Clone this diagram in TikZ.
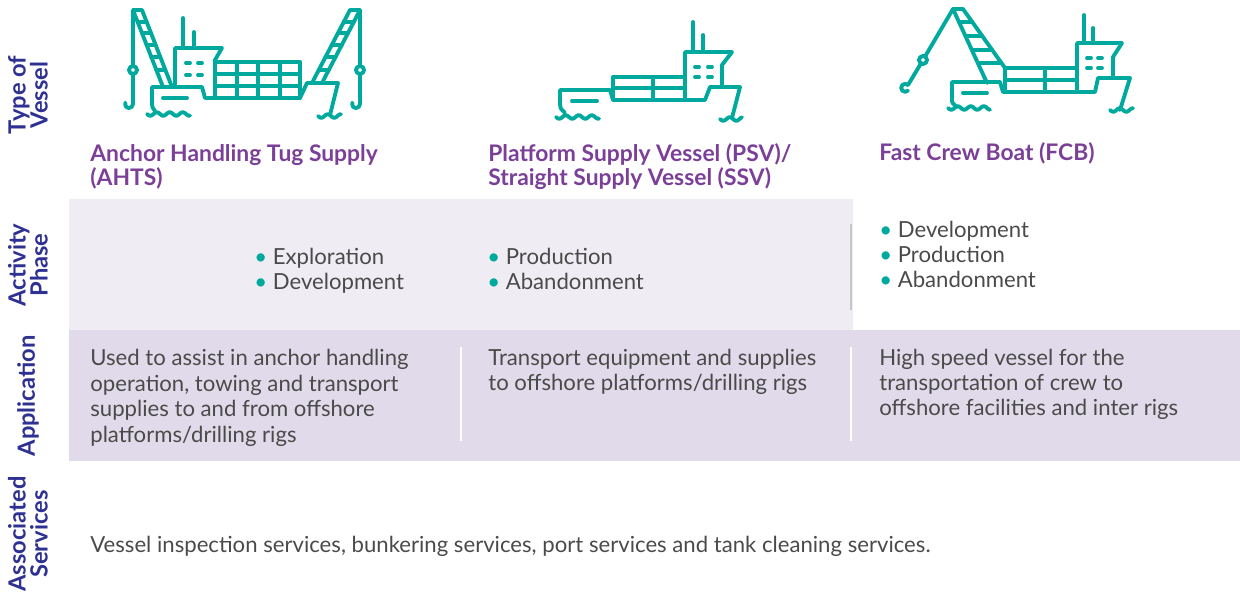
\documentclass[tikz,border=0pt]{standalone}
\usepackage{fontspec}
\setmainfont{Lato}
\definecolor{vteal}{HTML}{00A99D}
\definecolor{vpurple}{HTML}{7B3F98}
\definecolor{vblue}{HTML}{2E3192}
\definecolor{vgray}{HTML}{4A4A4A}
\definecolor{phasebg}{HTML}{EFECF3}
\definecolor{appbg}{HTML}{E1DAEA}
\newcommand{\blt}{\textcolor{vteal}{\textbullet}\ }

\begin{document}
\begin{tikzpicture}[x=0.02cm, y=-0.02cm,
    rowlabel/.style={rotate=90, 
      align=center, 
      inner sep=0, 
      text=vblue, 
      font=\fontsize{13.5}{12.5}\selectfont\bfseries},
    vesseltitle/.style={anchor=base west, 
      align=left, 
      inner sep=0, 
      text=vpurple, 
      font=\fontsize{13}{14.2}\selectfont\bfseries},
    bodytext/.style={anchor=base west, 
      align=left, 
      inner sep=0, 
      text=vgray, 
      font=\fontsize{12.6}{14.5}\selectfont},
    icon/.style={draw=vteal, line width=2.2pt, line cap=round, line join=round},
    divider/.style={draw=white, line width=1.2pt}]
  \useasboundingbox (0,0) rectangle (1240,597);

  % BANDS

  \fill[phasebg] (69,199) rectangle (853,330);
  \fill[appbg] (69,330) rectangle (1240,461);
  \draw[divider] (461,347) -- (461,441);
  \draw[divider] (851,347) -- (851,441);
  \draw[gray!45, line width=1.2pt] (851,224) -- (851,310);

  % ROW LABELS

  \node[rowlabel] (typelbl) at (28,95) {Type of\\Vessel};
  \node[rowlabel] (phaselbl) at (28,265) {Activity\\Phase};
  \node[rowlabel] (applbl) at (28,396) {Application};
  \node[rowlabel] (servlbl) at (28,534) {Associated\\Services};

  % AHTS ICON

  \draw[icon] (133,104) -- (133,74) (133,66) -- (133,10) -- (142,10) -- (172,87);
  \draw[icon] (133,10) -- (163,87);
  \draw[icon] (133,70) circle[radius=4];
  \draw[icon] (133,104) arc[start angle=0, end angle=200, radius=4];
  \foreach \r in {22,33,45,57,70}
    \draw[icon] ({133+0.388*(\r-10)},\r) -- ({142+0.388*(\r-10)},\r);
  \draw[icon] (175,87) -- (175,48) -- (222,48) -- (215,60) -- (215,98);
  \draw[icon] (183,48) -- (183,18) (194,48) -- (194,32);
  \foreach \w in {63,75}
    \draw[icon] (186,\w) -- (190,\w) (198,\w) -- (202,\w);
  \draw[icon] (215,62) rectangle (300,98);
  \draw[icon] (215,74) -- (300,74) (215,86) -- (300,86);
  \foreach \c in {237,258,280}
    \draw[icon] (\c,62) -- (\c,98);
  \draw[icon] (155,111) .. controls (152,107) .. (152,100) -- (152,87) -- (202,87) 
    -- (205,98) -- (300,98) -- (307,83) -- (338,83) -- (330,115);
  \draw[icon] (163,98) -- (187,98);
  \draw[icon] (312,83) -- (350,10) -- (360,10) -- (360,66) (360,74) -- (360,104);
  \draw[icon] (322,83) -- (360,10);
  \draw[icon] (360,70) circle[radius=4];
  \draw[icon] (360,104) arc[start angle=0, end angle=200, radius=4];
  \foreach \r in {22,33,45,57,70}
    \draw[icon] ({350-0.52*(\r-10)},\r) -- ({360-0.52*(\r-10)},\r);
  \draw[icon] plot[domain=147:190, samples=30, smooth] (\x,{114+1.8*sin(360*(\x-147)/13)});
  \draw[icon] plot[domain=318:341, samples=20, smooth] (\x,{116+1.8*sin(360*(\x-318)/13)});

  % PSV ICON

  \draw[icon] (693,52) -- (693,22) (703,52) -- (703,35);
  \draw[icon] (685,100) -- (685,52) -- (732,52) -- (722,65) -- (722,87);
  \foreach \w in {67,77}
    \draw[icon] (695,\w) -- (699,\w) (708,\w) -- (712,\w);
  \draw[icon] (613,77) rectangle (685,100);
  \draw[icon] (613,88) -- (685,88) (653,77) -- (653,100);
  \draw[icon] (565,113) .. controls (560,108) .. (560,104) -- (560,90) -- (610,90) 
    -- (613,100) -- (705,100) -- (710,87) -- (740,87) -- (732,118);
  \draw[icon] (572,101) -- (597,101);
  \draw[icon] plot[domain=556:599, samples=30, smooth] (\x,{117+1.8*sin(360*(\x-556)/13)});
  \draw[icon] plot[domain=720:742, samples=20, smooth] (\x,{119+1.8*sin(360*(\x-720)/13)});

  % FCB ICON

  \draw[icon] (953,9) -- (925,56.6) (921,63.4) -- (908,85);
  \draw[icon] (923,60) circle[radius=4];
  \draw[icon] (908,85) arc[start angle=-45, end angle=-315, radius=4];
  \draw[icon] (953,9) -- (963,9) -- (1005,68) (953,9) -- (987,83);
  \foreach \r in {22,36,50,63}
    \draw[icon] ({953+0.46*(\r-9)},\r) -- ({963+0.71*(\r-9)},\r);
  \draw[icon] (1005,68) rectangle (1077,92);
  \draw[icon] (1005,80) -- (1077,80) (1045,68) -- (1045,92);
  \draw[icon] (1077,92) -- (1077,43) -- (1122,43) -- (1113,57) -- (1113,78);
  \draw[icon] (1084,43) -- (1084,15) (1093,43) -- (1093,28);
  \foreach \w in {58,68}
    \draw[icon] (1087,\w) -- (1091,\w) (1098,\w) -- (1102,\w);
  \draw[icon] (957,107) .. controls (952,103) .. (952,99) -- (952,82) -- (1000,82) 
    -- (1003,92) -- (1095,92) -- (1098,78) -- (1130,78) -- (1120,110);
  \draw[icon] (963,93) -- (987,93);
  \draw[icon] plot[domain=948:990, samples=30, smooth] (\x,{108+1.8*sin(360*(\x-948)/13)});
  \draw[icon] plot[domain=1110:1133, samples=20, smooth] (\x,{110+1.8*sin(360*(\x-1110)/13)});

  % TITLES (base anchor = last line)

  \node[vesseltitle] (ahtstitle) at (90,186) {Anchor Handling Tug Supply\\(AHTS)};
  \node[vesseltitle] (psvtitle) at (488,186) {Platform Supply Vessel (PSV)/\\Straight Supply Vessel (SSV)};
  \node[vesseltitle] (fcbtitle) at (879,161) {Fast Crew Boat (FCB)};

  % ACTIVITY PHASE

  \node[bodytext] (ahtsphase) at (254,290) {\blt Exploration\\\blt Development};
  \node[bodytext] (psvphase) at (487,290) {\blt Production\\\blt Abandonment};
  \node[bodytext] (fcbphase) at (879,288) {\blt Development\\\blt Production\\\blt Abandonment};

  % APPLICATION

  \node[bodytext] (ahtsapp) at (90,442) {Used to assist in anchor handling\\operation, towing and transport\\supplies to and from offshore\\platforms/drilling rigs};
  \node[bodytext] (psvapp) at (488,391) {Transport equipment and supplies\\to offshore platforms/drilling rigs};
  \node[bodytext] (fcbapp) at (879,416) {High speed vessel for the\\transportation of crew to\\offshore facilities and inter rigs};

  % SERVICES

  \node[bodytext] (services) at (90,552) {Vessel inspection services, bunkering services, port services and tank cleaning services.};

\end{tikzpicture}
\end{document}
